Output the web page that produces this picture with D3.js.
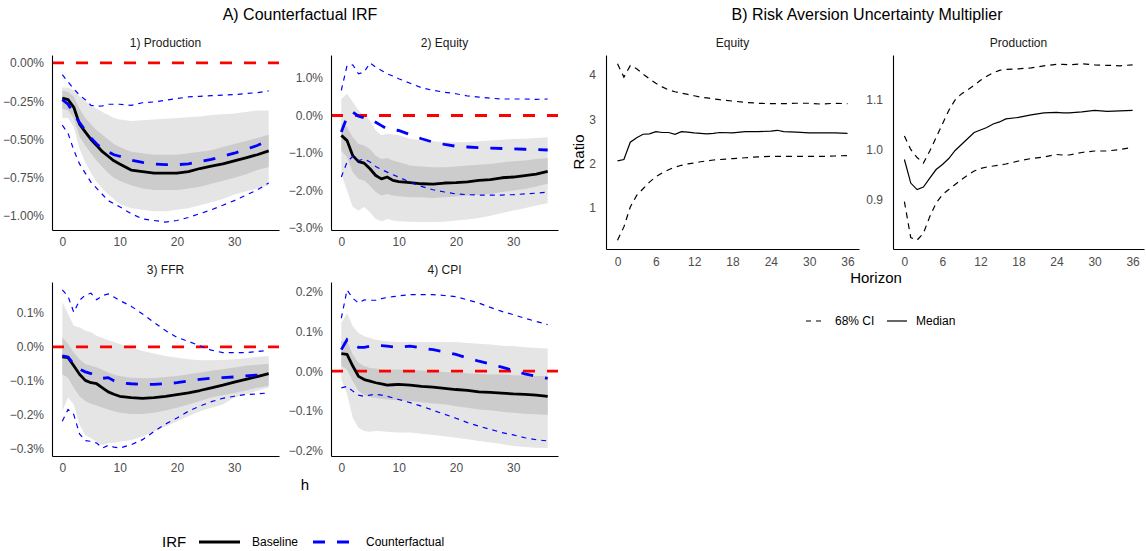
<!DOCTYPE html>
<html>
<head>
<meta charset="utf-8">
<script src="https://cdn.jsdelivr.net/npm/d3@7"></script>
<style>
  body { margin: 0; background: #fff; }
  svg { display: block; }
</style>
</head>
<body>
<div id="wrapper"></div>
<script>
// ---- data: counterfactual IRF panels (values in %) ----
const irfHorizons = [0, 1, 2, 3, 4, 5, 6, 7, 8, 9, 10, 12, 14, 16, 18, 20, 22, 24, 26, 28, 30, 32, 34, 36]
const irfXTicks = [0, 10, 20, 30]

const prodMedian = [-0.23, -0.24, -0.29, -0.40, -0.45, -0.50, -0.54, -0.58, -0.61, -0.64, -0.66, -0.70, -0.71, -0.72, -0.72, -0.72, -0.71, -0.69, -0.675, -0.66, -0.64, -0.62, -0.60, -0.575]
const prodHi68 = [-0.18, -0.19, -0.22, -0.30, -0.36, -0.40, -0.44, -0.47, -0.50, -0.53, -0.55, -0.58, -0.59, -0.60, -0.60, -0.60, -0.59, -0.58, -0.57, -0.55, -0.53, -0.51, -0.49, -0.47]
const prodLo68 = [-0.30, -0.31, -0.36, -0.48, -0.54, -0.59, -0.64, -0.68, -0.72, -0.75, -0.77, -0.80, -0.82, -0.83, -0.83, -0.83, -0.82, -0.81, -0.79, -0.77, -0.75, -0.73, -0.70, -0.68]
const prodHi90 = [-0.16, -0.16, -0.18, -0.22, -0.25, -0.28, -0.30, -0.32, -0.34, -0.36, -0.37, -0.38, -0.375, -0.37, -0.365, -0.36, -0.355, -0.35, -0.34, -0.335, -0.33, -0.32, -0.31, -0.31]
const prodLo90 = [-0.36, -0.36, -0.42, -0.56, -0.65, -0.72, -0.78, -0.82, -0.86, -0.89, -0.92, -0.95, -0.96, -0.97, -0.97, -0.96, -0.95, -0.93, -0.91, -0.89, -0.86, -0.84, -0.82, -0.80]
const prodCf = [-0.24, -0.27, -0.33, -0.39, -0.44, -0.49, -0.53, -0.56, -0.58, -0.60, -0.61, -0.635, -0.65, -0.66, -0.665, -0.665, -0.66, -0.645, -0.63, -0.61, -0.59, -0.565, -0.54, -0.505]
const prodCfHi = [-0.076, -0.124, -0.17, -0.21, -0.24, -0.277, -0.283, -0.28, -0.27, -0.27, -0.27, -0.277, -0.26, -0.255, -0.244, -0.233, -0.222, -0.218, -0.214, -0.21, -0.207, -0.20, -0.194, -0.183]
const prodCfLo = [-0.407, -0.46, -0.57, -0.66, -0.72, -0.78, -0.82, -0.86, -0.90, -0.92, -0.94, -0.985, -1.02, -1.03, -1.04, -1.03, -1.01, -0.985, -0.96, -0.93, -0.90, -0.865, -0.83, -0.785]
const prodTicks = [0, -0.25, -0.5, -0.75, -1]

const eqMedian = [-0.53, -0.67, -1.07, -1.23, -1.27, -1.42, -1.60, -1.69, -1.64, -1.73, -1.76, -1.79, -1.82, -1.83, -1.80, -1.79, -1.77, -1.73, -1.71, -1.66, -1.64, -1.60, -1.56, -1.49]
const eqHi68 = [-0.22, -0.31, -0.58, -0.76, -0.80, -0.89, -1.07, -1.16, -1.13, -1.20, -1.24, -1.33, -1.36, -1.38, -1.38, -1.36, -1.33, -1.31, -1.29, -1.25, -1.22, -1.20, -1.16, -1.13]
const eqLo68 = [-0.93, -1.11, -1.51, -1.69, -1.73, -1.87, -2.04, -2.13, -2.09, -2.13, -2.15, -2.18, -2.18, -2.20, -2.18, -2.16, -2.13, -2.11, -2.09, -2.04, -2.00, -1.96, -1.89, -1.82]
const eqHi90 = [0.44, 0.58, 0.36, 0.13, 0.00, -0.13, -0.40, -0.53, -0.49, -0.51, -0.53, -0.62, -0.67, -0.69, -0.71, -0.71, -0.71, -0.69, -0.67, -0.65, -0.63, -0.62, -0.60, -0.58]
const eqLo90 = [-1.56, -2.00, -2.44, -2.53, -2.44, -2.58, -2.76, -2.82, -2.76, -2.80, -2.82, -2.83, -2.84, -2.84, -2.83, -2.80, -2.77, -2.73, -2.67, -2.60, -2.53, -2.47, -2.40, -2.34]
const eqCf = [-0.44, -0.04, 0.09, -0.02, -0.06, -0.09, -0.18, -0.27, -0.36, -0.38, -0.40, -0.51, -0.62, -0.71, -0.77, -0.82, -0.84, -0.86, -0.87, -0.88, -0.89, -0.90, -0.91, -0.92]
const eqCfHi = [0.67, 1.33, 1.35, 1.11, 1.16, 1.40, 1.29, 1.20, 1.11, 1.05, 0.98, 0.86, 0.74, 0.67, 0.62, 0.58, 0.52, 0.49, 0.46, 0.44, 0.44, 0.44, 0.43, 0.44]
const eqCfLo = [-1.64, -1.24, -1.09, -1.20, -1.16, -1.24, -1.36, -1.44, -1.51, -1.58, -1.64, -1.78, -1.89, -1.98, -2.04, -2.09, -2.11, -2.12, -2.12, -2.12, -2.11, -2.09, -2.07, -2.04]
const eqTicks = [1, 0, -1, -2, -3]

const ffrMedian = [-0.030, -0.032, -0.056, -0.081, -0.099, -0.106, -0.109, -0.121, -0.133, -0.140, -0.146, -0.150, -0.152, -0.150, -0.146, -0.141, -0.136, -0.129, -0.121, -0.113, -0.104, -0.096, -0.088, -0.079]
const ffrHi68 = [0.028, 0.008, -0.017, -0.037, -0.051, -0.056, -0.061, -0.068, -0.076, -0.082, -0.086, -0.091, -0.093, -0.092, -0.089, -0.086, -0.081, -0.076, -0.071, -0.066, -0.061, -0.056, -0.053, -0.050]
const ffrLo68 = [-0.081, -0.091, -0.121, -0.146, -0.160, -0.168, -0.173, -0.180, -0.185, -0.190, -0.195, -0.198, -0.198, -0.195, -0.188, -0.180, -0.170, -0.160, -0.150, -0.143, -0.136, -0.129, -0.121, -0.116]
const ffrHi90 = [0.132, 0.097, 0.062, 0.057, 0.048, 0.043, 0.033, 0.026, 0.020, 0.014, 0.008, -0.002, -0.012, -0.020, -0.027, -0.032, -0.037, -0.040, -0.040, -0.039, -0.037, -0.034, -0.030, -0.027]
const ffrLo90 = [-0.19, -0.15, -0.17, -0.23, -0.26, -0.27, -0.28, -0.29, -0.285, -0.283, -0.28, -0.275, -0.265, -0.25, -0.235, -0.22, -0.205, -0.19, -0.18, -0.17, -0.15, -0.14, -0.13, -0.12]
const ffrCf = [-0.027, -0.030, -0.051, -0.066, -0.074, -0.079, -0.086, -0.093, -0.091, -0.100, -0.106, -0.109, -0.111, -0.111, -0.109, -0.106, -0.101, -0.096, -0.093, -0.091, -0.089, -0.086, -0.083, -0.079]
const ffrCfHi = [0.168, 0.149, 0.102, 0.137, 0.153, 0.158, 0.139, 0.151, 0.156, 0.147, 0.137, 0.120, 0.097, 0.072, 0.048, 0.028, 0.016, 0.003, -0.010, -0.017, -0.017, -0.017, -0.014, -0.010]
const ffrCfLo = [-0.220, -0.185, -0.200, -0.257, -0.277, -0.279, -0.284, -0.299, -0.291, -0.296, -0.299, -0.289, -0.274, -0.250, -0.228, -0.210, -0.190, -0.175, -0.162, -0.152, -0.146, -0.141, -0.139, -0.136]
const ffrTicks = [0.1, 0, -0.1, -0.2, -0.3]

const cpiMedian = [0.044, 0.042, 0.013, -0.013, -0.021, -0.025, -0.029, -0.032, -0.035, -0.034, -0.033, -0.035, -0.038, -0.040, -0.043, -0.046, -0.048, -0.052, -0.053, -0.055, -0.057, -0.058, -0.060, -0.063]
const cpiHi68 = [0.075, 0.075, 0.042, 0.021, 0.013, 0.008, 0.007, 0.005, 0.004, 0.004, 0.004, 0.003, 0.002, 0.000, -0.002, -0.004, -0.005, -0.007, -0.008, -0.008, -0.010, -0.011, -0.012, -0.013]
const cpiLo68 = [0.013, 0.004, -0.025, -0.050, -0.060, -0.065, -0.067, -0.069, -0.071, -0.072, -0.073, -0.075, -0.078, -0.081, -0.083, -0.088, -0.092, -0.096, -0.098, -0.102, -0.104, -0.107, -0.108, -0.110]
const cpiHi90 = [0.121, 0.146, 0.113, 0.096, 0.088, 0.083, 0.079, 0.077, 0.075, 0.074, 0.073, 0.073, 0.073, 0.073, 0.073, 0.073, 0.071, 0.069, 0.067, 0.064, 0.063, 0.060, 0.058, 0.057]
const cpiLo90 = [-0.021, -0.058, -0.117, -0.142, -0.150, -0.152, -0.150, -0.151, -0.152, -0.153, -0.154, -0.154, -0.157, -0.160, -0.163, -0.167, -0.171, -0.175, -0.179, -0.183, -0.188, -0.190, -0.192, -0.193]
const cpiCf = [0.054, 0.079, 0.067, 0.060, 0.060, 0.063, 0.065, 0.064, 0.063, 0.061, 0.060, 0.063, 0.058, 0.054, 0.048, 0.042, 0.033, 0.025, 0.018, 0.010, 0.002, -0.007, -0.013, -0.018]
const cpiCfHi = [0.133, 0.204, 0.183, 0.171, 0.179, 0.178, 0.178, 0.182, 0.185, 0.187, 0.189, 0.192, 0.192, 0.192, 0.190, 0.187, 0.179, 0.171, 0.160, 0.150, 0.142, 0.133, 0.125, 0.117]
const cpiCfLo = [-0.042, -0.038, -0.050, -0.060, -0.063, -0.060, -0.058, -0.060, -0.063, -0.067, -0.071, -0.079, -0.088, -0.098, -0.108, -0.118, -0.129, -0.138, -0.146, -0.154, -0.160, -0.167, -0.172, -0.175]
const cpiTicks = [0.2, 0.1, 0, -0.1, -0.2]

// ---- data: risk aversion uncertainty multiplier (ratio) ----
const ratioHorizons = [0, 1, 2, 3, 4, 5, 6, 7, 8, 9, 10, 11, 12, 13, 14, 15, 16, 18, 20, 22, 24, 25, 26, 28, 30, 32, 34, 36]
const ratioXTicks = [0, 6, 12, 18, 24, 30, 36]

const ratioEqMedian = [2.06, 2.09, 2.48, 2.58, 2.66, 2.67, 2.72, 2.70, 2.70, 2.66, 2.72, 2.71, 2.69, 2.68, 2.67, 2.68, 2.70, 2.69, 2.72, 2.72, 2.73, 2.75, 2.72, 2.71, 2.69, 2.69, 2.69, 2.68]
const ratioEqHi = [4.25, 3.95, 4.21, 4.14, 4.02, 3.91, 3.81, 3.73, 3.66, 3.62, 3.59, 3.56, 3.53, 3.50, 3.48, 3.46, 3.44, 3.41, 3.38, 3.36, 3.35, 3.35, 3.35, 3.36, 3.36, 3.34, 3.36, 3.35]
const ratioEqLo = [0.27, 0.57, 1.02, 1.28, 1.43, 1.58, 1.70, 1.79, 1.86, 1.92, 1.96, 1.99, 2.01, 2.04, 2.06, 2.08, 2.09, 2.11, 2.13, 2.15, 2.16, 2.16, 2.16, 2.16, 2.16, 2.16, 2.17, 2.18]
const ratioEqTicks = [1, 2, 3, 4]

const ratioProdMedian = [0.981, 0.934, 0.921, 0.926, 0.944, 0.961, 0.971, 0.983, 0.999, 1.011, 1.023, 1.035, 1.040, 1.045, 1.052, 1.056, 1.062, 1.065, 1.070, 1.074, 1.075, 1.074, 1.074, 1.076, 1.079, 1.077, 1.078, 1.079]
const ratioProdHi = [1.028, 1.001, 0.985, 0.974, 0.998, 1.025, 1.052, 1.079, 1.100, 1.112, 1.120, 1.129, 1.139, 1.147, 1.154, 1.159, 1.161, 1.162, 1.164, 1.168, 1.171, 1.171, 1.170, 1.172, 1.170, 1.169, 1.168, 1.170]
const ratioProdLo = [0.897, 0.825, 0.820, 0.834, 0.867, 0.894, 0.911, 0.921, 0.931, 0.941, 0.950, 0.958, 0.963, 0.966, 0.968, 0.970, 0.972, 0.978, 0.983, 0.986, 0.991, 0.990, 0.990, 0.995, 0.998, 0.998, 1.001, 1.005]
const ratioProdTicks = [0.9, 1.0, 1.1]

function drawChart() {
  const dimensions = { width: 1146, height: 551 }

  const wrapper = d3
    .select("#wrapper")
    .append("svg")
    .attr("width", dimensions.width)
    .attr("height", dimensions.height)
    .style("font-family", "'Liberation Sans', Arial, Helvetica, sans-serif")

  // ggplot-style 5% expansion
  const expand = ([lo, hi]) => {
    const pad = (hi - lo) * 0.05
    return [lo - pad, hi + pad]
  }

  const styleAxis = (g) => {
    g.select(".domain").attr("stroke", "#000").attr("stroke-width", 1.1)
    g.selectAll("text").attr("fill", "#4d4d4d").style("font-size", "12px")
  }

  // ---- A) counterfactual IRF ----
  const irfPanels = [
    { title: "1) Production", median: prodMedian, hi68: prodHi68, lo68: prodLo68, hi90: prodHi90, lo90: prodLo90, cf: prodCf, cfHi: prodCfHi, cfLo: prodCfLo, ticks: prodTicks, format: ".2f" },
    { title: "2) Equity", median: eqMedian, hi68: eqHi68, lo68: eqLo68, hi90: eqHi90, lo90: eqLo90, cf: eqCf, cfHi: eqCfHi, cfLo: eqCfLo, ticks: eqTicks, format: ".1f" },
    { title: "3) FFR", median: ffrMedian, hi68: ffrHi68, lo68: ffrLo68, hi90: ffrHi90, lo90: ffrLo90, cf: ffrCf, cfHi: ffrCfHi, cfLo: ffrCfLo, ticks: ffrTicks, format: ".1f" },
    { title: "4) CPI", median: cpiMedian, hi68: cpiHi68, lo68: cpiLo68, hi90: cpiHi90, lo90: cpiLo90, cf: cpiCf, cfHi: cpiCfHi, cfLo: cpiCfLo, ticks: cpiTicks, format: ".1f" },
  ]
  const irfBoxes = [
    { x: 52, y: 55, width: 227, height: 175 },
    { x: 331, y: 55, width: 227, height: 175 },
    { x: 52, y: 282, width: 227, height: 174 },
    { x: 331, y: 282, width: 227, height: 174 },
  ]

  const drawIrfPanel = (panel, box) => {
    const bounds = wrapper
      .append("g")
      .attr("transform", `translate(${box.x}, ${box.y})`)

    const xScale = d3
      .scaleLinear()
      .domain(expand(d3.extent(irfHorizons)))
      .range([0, box.width])

    const allValues = [0].concat(panel.median, panel.hi68, panel.lo68, panel.hi90, panel.lo90, panel.cf, panel.cfHi, panel.cfLo)
    const yScale = d3
      .scaleLinear()
      .domain(expand(d3.extent(allValues)))
      .range([box.height, 0])

    const band = (lo, hi) =>
      d3
        .area()
        .x((d, i) => xScale(irfHorizons[i]))
        .y0((d, i) => yScale(lo[i]))
        .y1((d, i) => yScale(hi[i]))(irfHorizons)
    const line = (values) =>
      d3
        .line()
        .x((d, i) => xScale(irfHorizons[i]))
        .y((d, i) => yScale(values[i]))(irfHorizons)

    bounds.append("path").attr("d", band(panel.lo90, panel.hi90)).attr("fill", "#e5e5e5")
    bounds.append("path").attr("d", band(panel.lo68, panel.hi68)).attr("fill", "#cccccc")

    bounds
      .append("line")
      .attr("x1", 0)
      .attr("x2", box.width)
      .attr("y1", yScale(0))
      .attr("y2", yScale(0))
      .attr("stroke", "#ff0000")
      .attr("stroke-width", 2.8)
      .attr("stroke-dasharray", "12,12")

    bounds
      .append("path")
      .attr("d", line(panel.median))
      .attr("fill", "none")
      .attr("stroke", "#000")
      .attr("stroke-width", 2.8)
      .attr("stroke-linejoin", "round")

    ;[panel.cfHi, panel.cfLo].forEach((values) => {
      bounds
        .append("path")
        .attr("d", line(values))
        .attr("fill", "none")
        .attr("stroke", "#0000ff")
        .attr("stroke-width", 1.2)
        .attr("stroke-dasharray", "5,5")
    })

    bounds
      .append("path")
      .attr("d", line(panel.cf))
      .attr("fill", "none")
      .attr("stroke", "#0000ff")
      .attr("stroke-width", 2.8)
      .attr("stroke-dasharray", "12,12")

    // axes
    const fmt = d3.format(panel.format)
    const yAxisGenerator = d3
      .axisLeft(yScale)
      .tickValues(panel.ticks)
      .tickFormat((d) => fmt(d) + "%")
      .tickSize(0)
      .tickSizeOuter(0)
      .tickPadding(8)
    bounds.append("g").call(yAxisGenerator).call(styleAxis)

    const xAxisGenerator = d3
      .axisBottom(xScale)
      .tickValues(irfXTicks)
      .tickSize(0)
      .tickSizeOuter(0)
      .tickPadding(7)
    bounds
      .append("g")
      .attr("transform", `translate(0, ${box.height})`)
      .call(xAxisGenerator)
      .call(styleAxis)

    bounds
      .append("text")
      .attr("x", box.width / 2)
      .attr("y", -12)
      .attr("text-anchor", "middle")
      .attr("dy", "0.35em")
      .attr("fill", "#1a1a1a")
      .style("font-size", "12px")
      .text(panel.title)
  }

  irfPanels.forEach((panel, i) => drawIrfPanel(panel, irfBoxes[i]))

  // ---- B) ratio panels ----
  const ratioPanels = [
    { title: "Equity", median: ratioEqMedian, hi: ratioEqHi, lo: ratioEqLo, ticks: ratioEqTicks, format: "d" },
    { title: "Production", median: ratioProdMedian, hi: ratioProdHi, lo: ratioProdLo, ticks: ratioProdTicks, format: ".1f" },
  ]
  const ratioBoxes = [
    { x: 606, y: 55, width: 253, height: 194 },
    { x: 893, y: 55, width: 251, height: 194 },
  ]

  const drawRatioPanel = (panel, box) => {
    const bounds = wrapper
      .append("g")
      .attr("transform", `translate(${box.x}, ${box.y})`)

    const xScale = d3
      .scaleLinear()
      .domain(expand(d3.extent(ratioHorizons)))
      .range([0, box.width])
    const yScale = d3
      .scaleLinear()
      .domain(expand(d3.extent(panel.median.concat(panel.hi, panel.lo))))
      .range([box.height, 0])

    const line = (values) =>
      d3
        .line()
        .x((d, i) => xScale(ratioHorizons[i]))
        .y((d, i) => yScale(values[i]))(ratioHorizons)

    ;[panel.hi, panel.lo].forEach((values) => {
      bounds
        .append("path")
        .attr("d", line(values))
        .attr("fill", "none")
        .attr("stroke", "#000")
        .attr("stroke-width", 1.2)
        .attr("stroke-dasharray", "6,5")
    })
    bounds
      .append("path")
      .attr("d", line(panel.median))
      .attr("fill", "none")
      .attr("stroke", "#000")
      .attr("stroke-width", 1.2)

    const fmt = d3.format(panel.format)
    bounds
      .append("g")
      .call(d3.axisLeft(yScale).tickValues(panel.ticks).tickFormat(fmt).tickSize(0).tickSizeOuter(0).tickPadding(10))
      .call(styleAxis)
    bounds
      .append("g")
      .attr("transform", `translate(0, ${box.height})`)
      .call(d3.axisBottom(xScale).tickValues(ratioXTicks).tickSize(0).tickSizeOuter(0).tickPadding(8))
      .call(styleAxis)

    bounds
      .append("text")
      .attr("x", box.width / 2)
      .attr("y", -12)
      .attr("text-anchor", "middle")
      .attr("dy", "0.35em")
      .attr("fill", "#1a1a1a")
      .style("font-size", "12px")
      .text(panel.title)
  }

  ratioPanels.forEach((panel, i) => drawRatioPanel(panel, ratioBoxes[i]))

  // ---- titles and axis labels ----
  const addText = (x, y, text, size, extra) => {
    const t = wrapper
      .append("text")
      .attr("x", x)
      .attr("y", y)
      .attr("dy", "0.35em")
      .attr("fill", "#000")
      .style("font-size", size)
      .text(text)
    if (extra) extra(t)
    return t
  }

  addText(300, 14, "A) Counterfactual IRF", "16px", (t) => t.attr("text-anchor", "middle"))
  addText(867, 14, "B) Risk Aversion Uncertainty Multiplier", "16px", (t) => t.attr("text-anchor", "middle"))
  addText(305, 485, "h", "15px", (t) => t.attr("text-anchor", "middle"))
  addText(876, 278, "Horizon", "15px", (t) => t.attr("text-anchor", "middle"))
  addText(0, 0, "Ratio", "15px", (t) =>
    t.attr("text-anchor", "middle").attr("transform", "translate(579, 152) rotate(-90)")
  )

  // ---- legends ----
  const legendY = 542
  addText(162, legendY, "IRF", "15px")
  wrapper.append("line").attr("x1", 199).attr("x2", 240).attr("y1", legendY).attr("y2", legendY)
    .attr("stroke", "#000").attr("stroke-width", 2.8)
  addText(252, legendY, "Baseline", "12px")
  wrapper.append("line").attr("x1", 313).attr("x2", 350).attr("y1", legendY).attr("y2", legendY)
    .attr("stroke", "#0000ff").attr("stroke-width", 2.8).attr("stroke-dasharray", "12,12")
  addText(366, legendY, "Counterfactual", "12px")

  const legend2Y = 321
  wrapper.append("line").attr("x1", 806).attr("x2", 821).attr("y1", legend2Y).attr("y2", legend2Y)
    .attr("stroke", "#000").attr("stroke-width", 1.2).attr("stroke-dasharray", "5,5")
  addText(835, legend2Y, "68% CI", "12px")
  wrapper.append("line").attr("x1", 887).attr("x2", 907).attr("y1", legend2Y).attr("y2", legend2Y)
    .attr("stroke", "#000").attr("stroke-width", 1.2)
  addText(916, legend2Y, "Median", "12px")
}

drawChart()
</script>
</body>
</html>
